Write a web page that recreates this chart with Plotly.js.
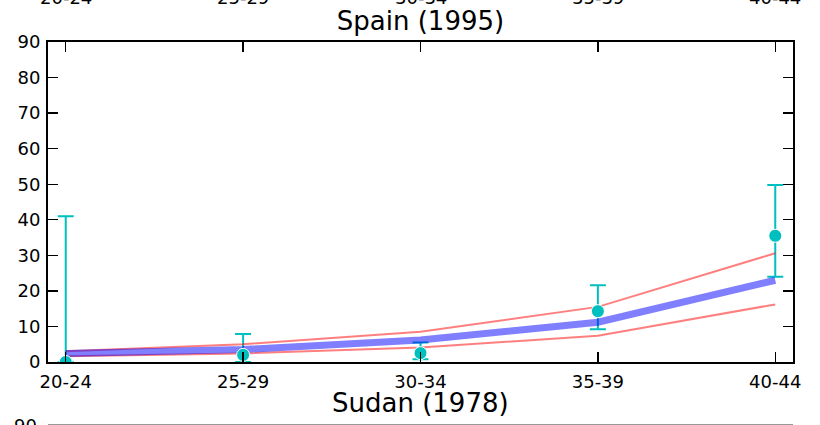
<!DOCTYPE html>
<html>
<head>
<meta charset="utf-8">
<script src="https://cdn.plot.ly/plotly-3.0.1.min.js"></script>
<style>
  html, body { margin: 0; padding: 0; background: #fff; }
  #chart { width: 820px; height: 425px; }
</style>
</head>
<body>
<div id="chart"></div>
<script>
// ---- data ----
const ageGroups = ['20-24', '25-29', '30-34', '35-39', '40-44'];
const observed = [0.0, 2.0, 2.5, 14.3, 35.5];
const observedHigh = [41.0, 7.9, 5.5, 21.6, 49.8];
const observedLow = [0.0, 0.0, 0.8, 9.2, 24.0];
const modelMean = [2.4, 3.5, 6.2, 11.2, 23.0];
const modelUpper = [3.0, 5.0, 8.5, 15.5, 30.6];
const modelLower = [1.6, 2.4, 4.1, 7.4, 16.2];
const yTicks = [0, 10, 20, 30, 40, 50, 60, 70, 80, 90];
const mainTitle = 'Spain (1995)';
const nextTitle = 'Sudan (1978)';

const FONT = 'DejaVu Sans, Liberation Sans, sans-serif';

const plus = observed.map((v, i) => observedHigh[i] - v);
const minus = observed.map((v, i) => v - observedLow[i]);

const traces = [
  { // error bars (drawn below the model lines)
    x: ageGroups, y: observed, type: 'scatter', mode: 'markers',
    marker: { color: 'rgba(0,0,0,0)', size: 1 },
    error_y: { type: 'data', symmetric: false, array: plus, arrayminus: minus,
               color: '#00BFBF', thickness: 2, width: 8 },
    showlegend: false, hoverinfo: 'skip'
  },
  {
    x: ageGroups, y: modelUpper, type: 'scatter', mode: 'lines',
    line: { color: 'rgba(255,0,0,0.5)', width: 2 }, showlegend: false, hoverinfo: 'skip'
  },
  {
    x: ageGroups, y: modelLower, type: 'scatter', mode: 'lines',
    line: { color: 'rgba(255,0,0,0.5)', width: 2 }, showlegend: false, hoverinfo: 'skip'
  },
  {
    x: ageGroups, y: modelMean, type: 'scatter', mode: 'lines',
    line: { color: 'rgba(0,0,255,0.5)', width: 7 }, showlegend: false, hoverinfo: 'skip'
  },
  { // observed points on top
    x: ageGroups, y: observed, type: 'scatter', mode: 'markers',
    marker: { color: '#00BFBF', size: 13, line: { color: '#ffffff', width: 1 } },
    showlegend: false, hoverinfo: 'skip'
  }
];

const axisCommon = {
  showline: true, linecolor: '#000', linewidth: 2, mirror: 'allticks',
  ticks: 'inside', ticklen: 10, tickwidth: 1.3, tickcolor: '#000',
  showgrid: false, zeroline: false,
  tickfont: { family: FONT, size: 18, color: '#000' }
};

// previous panel's tick labels (cut off at the top) and next panel's title / frame
const annotations = ageGroups.map((g, i) => ({
  x: i, xref: 'x', y: 1.14, yref: 'paper', text: g, showarrow: false,
  xanchor: 'center', yanchor: 'middle', font: { family: FONT, size: 18, color: '#000' }
}));
annotations.push({
  x: 0.5, xref: 'paper', y: -0.127, yref: 'paper', text: nextTitle, showarrow: false,
  xanchor: 'center', yanchor: 'middle', font: { family: FONT, size: 26, color: '#000' }
});
annotations.push({
  x: -0.012, xref: 'paper', y: -0.198, yref: 'paper', text: String(yTicks[yTicks.length - 1]),
  showarrow: false, xanchor: 'right', yanchor: 'middle',
  font: { family: FONT, size: 18, color: '#000' }
});

const layout = {
  width: 820, height: 425,
  margin: { l: 48, r: 27, t: 42, b: 63, pad: 0 },
  paper_bgcolor: '#fff', plot_bgcolor: '#fff',
  title: { text: mainTitle, font: { family: FONT, size: 26, color: '#000' },
           x: 0.5, xref: 'paper', xanchor: 'center', y: 1 - 21 / 425, yref: 'container', yanchor: 'middle' },
  xaxis: Object.assign({}, axisCommon, {
    type: 'category', categoryorder: 'array', categoryarray: ageGroups,
    range: [-0.1, 4.1], ticklabelstandoff: 2
  }),
  yaxis: Object.assign({}, axisCommon, {
    range: [0, 90], tickvals: yTicks, ticktext: yTicks.map(String), ticklabelstandoff: 2
  }),
  shapes: [{
    type: 'line', xref: 'paper', yref: 'paper', x0: 0, x1: 1, y0: -0.1975, y1: -0.1975,
    line: { color: '#777', width: 2 }
  }],
  annotations: annotations,
  showlegend: false
};

Plotly.newPlot('chart', traces, layout, { displayModeBar: false, staticPlot: true });
</script>
</body>
</html>
